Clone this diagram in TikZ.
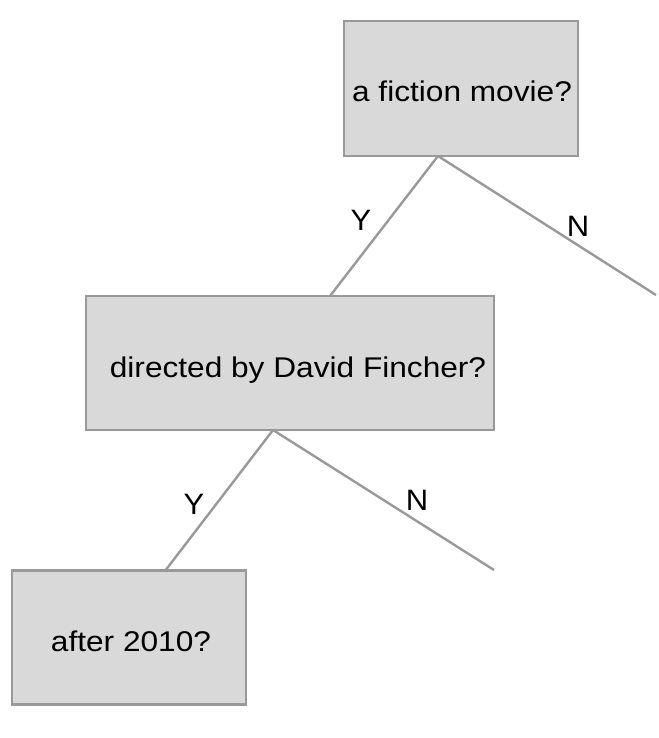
\documentclass[tikz,border=0pt]{standalone}
\usepackage{fontspec}
\usepackage{graphicx}
\setmainfont{Liberation Sans}
\definecolor{boxfill}{HTML}{D9D9D9}
\definecolor{edgegray}{HTML}{999999}
\newcommand{\wtxt}[1]{\scalebox{1.11}[1]{#1}}
\newcommand{\ltxt}[1]{\scalebox{1.05}[1]{#1}}
\tikzset{
  qbox/.style={draw=edgegray, fill=boxfill, line width=2.6pt, inner sep=0pt},
  qtext/.style={anchor=base, inner sep=0pt, font=\fontsize{28.5}{34}\selectfont},
  lbl/.style={anchor=base, inner sep=0pt, font=\fontsize{29.5}{34}\selectfont},
  branch/.style={draw=edgegray, line width=2.4pt}
}
\begin{document}
\begin{tikzpicture}[x=1pt,y=-1pt]
\useasboundingbox (0,0) rectangle (658,738);
% boxes
\node[qbox, minimum width=234pt, minimum height=135pt] (b1) at (461,88.5) {};
\node[qbox, minimum width=408pt, minimum height=134pt] (b2) at (290,363) {};
\node[qbox, minimum width=234pt, minimum height=134pt] (b3) at (129,637.5) {};
% texts
\node[qtext] (t1) at (462,102) {\wtxt{a fiction movie?}};
\node[qtext] (t2) at (298,377) {\wtxt{directed by David Fincher?}};
\node[qtext] (t3) at (131,651) {\wtxt{after 2010?}};
% branch points and free ends
\coordinate (s1) at (438,156);
\coordinate (e1y) at (330,296);
\coordinate (e1n) at (656,295);
\coordinate (s2) at (273,430);
\coordinate (e2y) at (165,571);
\coordinate (e2n) at (494,570);
\draw[branch] (s1) -- (e1y);
\draw[branch] (s1) -- (e1n);
\draw[branch] (s2) -- (e2y);
\draw[branch] (s2) -- (e2n);
% labels
\node[lbl] (y1) at (361,230) {\ltxt{Y}};
\node[lbl] (n1) at (578,236) {\ltxt{N}};
\node[lbl] (y2) at (194,514) {\ltxt{Y}};
\node[lbl] (n2) at (417,510) {\ltxt{N}};
\end{tikzpicture}
\end{document}
